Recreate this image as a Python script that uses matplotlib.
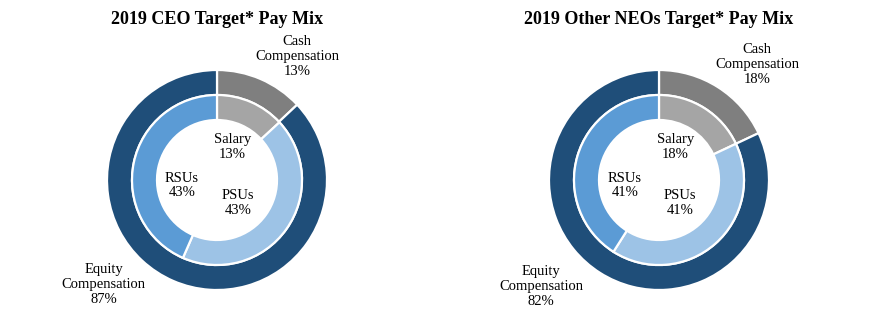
import matplotlib
matplotlib.use("Agg")
import matplotlib.pyplot as plt

plt.rcParams['font.family'] = ['Liberation Serif', 'DejaVu Serif']

# data
titles = ["2019 CEO Target* Pay Mix", "2019 Other NEOs Target* Pay Mix"]
outer_names = ["Cash\nCompensation", "Equity\nCompensation"]
inner_names = ["Salary", "PSUs", "RSUs"]
ceo_outer = [13, 87]
ceo_inner = [13, 43, 43]
neo_outer = [18, 82]
neo_inner = [18, 41, 41]

outer_colors = ["#7F7F7F", "#1F4E79"]
inner_colors = ["#A5A5A5", "#9DC3E6", "#5B9BD5"]

W, H = 876, 325
R = 110.0  # pixels per unit radius
fig = plt.figure(figsize=(W / 100, H / 100), dpi=100)

# chart centres in pixels (x from left, y from top) and label positions in radius units
charts = [
    dict(cx=217, cy=180, x0=0, x1=438, outer=ceo_outer, inner=ceo_inner,
         outer_pos=[(0.73, 1.12), (-1.03, -0.95)],
         inner_pos=[(0.14, 0.30), (0.19, -0.21), (-0.32, -0.05)]),
    dict(cx=659, cy=180, x0=438, x1=876, outer=neo_outer, inner=neo_inner,
         outer_pos=[(0.89, 1.05), (-1.07, -0.97)],
         inner_pos=[(0.15, 0.30), (0.19, -0.21), (-0.31, -0.05)]),
]

w = 25 / R
for i, c in enumerate(charts):
    ax = fig.add_axes([c["x0"] / W, 0, (c["x1"] - c["x0"]) / W, 1])
    ax.pie(c["outer"], radius=1.0, colors=outer_colors, startangle=90, counterclock=False,
           wedgeprops=dict(width=w, edgecolor="white", linewidth=1.6))
    ax.pie(c["inner"], radius=1.0 - w, colors=inner_colors, startangle=90, counterclock=False,
           wedgeprops=dict(width=w, edgecolor="white", linewidth=1.6))
    ax.set_xlim((c["x0"] - c["cx"]) / R, (c["x1"] - c["cx"]) / R)
    ax.set_ylim((c["cy"] - H) / R, c["cy"] / R)
    ax.set_aspect("auto")
    ax.axis("off")

    for name, v, (x, y) in zip(outer_names, c["outer"], c["outer_pos"]):
        ax.text(x, y, "{}\n{}%".format(name, v), ha="center", va="center",
                fontsize=10.5, linespacing=1.2)
    for name, v, (x, y) in zip(inner_names, c["inner"], c["inner_pos"]):
        ax.text(x, y, "{}\n{}%".format(name, v), ha="center", va="center",
                fontsize=10.5, linespacing=1.2)

    fig.text(c["cx"] / W, 1 - 20 / H, titles[i], ha="center", va="center",
             fontsize=13, fontweight="bold")

fig.savefig("out.png", dpi=100, facecolor="white")
